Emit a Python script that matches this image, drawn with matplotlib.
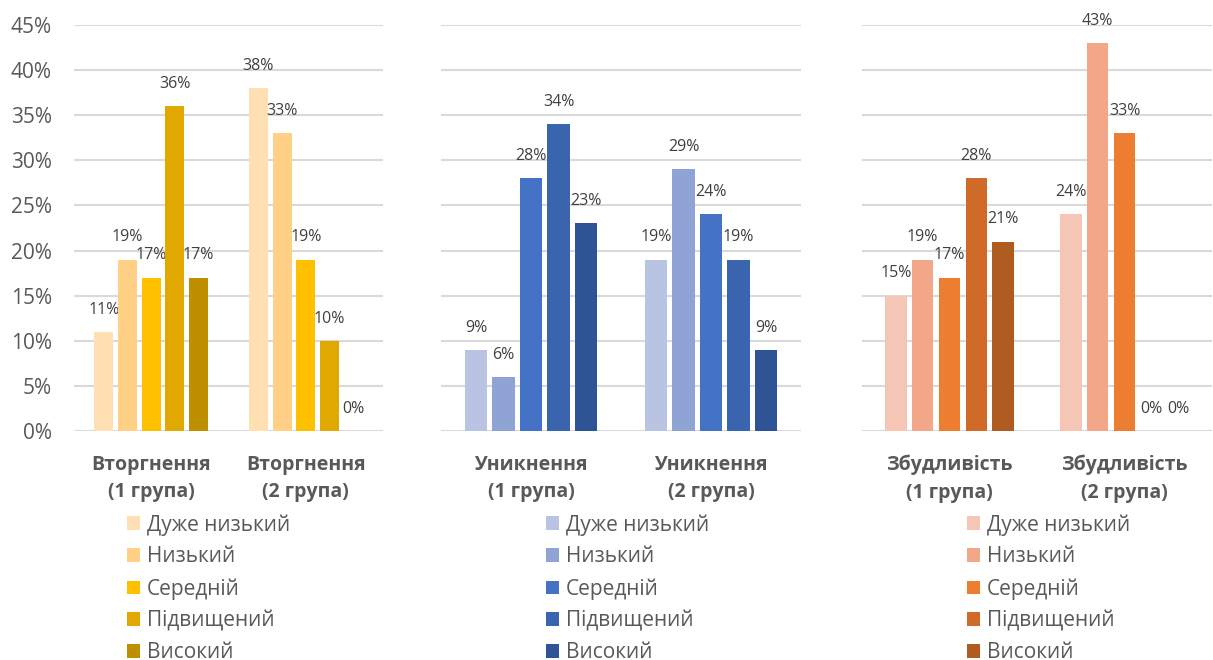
import matplotlib.pyplot as plt
import numpy as np
from matplotlib.patches import Patch

plt.rcParams['font.family'] = ['Open Sans', 'DejaVu Sans']

levels = ['Дуже низький', 'Низький', 'Середній', 'Підвищений', 'Високий']

invasion_labels = ['Вторгнення\n(1 група)', 'Вторгнення\n(2 група)']
invasion_g1 = [11, 19, 17, 36, 17]
invasion_g2 = [38, 33, 19, 10, 0]

avoid_labels = ['Уникнення\n(1 група)', 'Уникнення\n(2 група)']
avoid_g1 = [9, 6, 28, 34, 23]
avoid_g2 = [19, 29, 24, 19, 9]

arousal_labels = ['Збудливість\n(1 група)', 'Збудливість\n(2 група)']
arousal_g1 = [15, 19, 17, 28, 21]
arousal_g2 = [24, 43, 33, 0, 0]

yellow = ['#FFE0B3', '#FFD085', '#FFC000', '#E0A800', '#BF8F00']
blue = ['#B9C4E3', '#8FA4D5', '#4472C4', '#3A64AD', '#2F5496']
orange = ['#F5C6B5', '#F1A788', '#ED7D31', '#D06A28', '#B05C20']

W, H = 1213, 660
fig = plt.figure(figsize=(W / 100, H / 100), dpi=100)

text_col = '#595959'
grid_col = '#D9D9D9'

# pixel extents of each panel: (left, right, legend x)
panels = [
    (74, 383, 127, invasion_labels, invasion_g1, invasion_g2, yellow),
    (441, 801, 546, avoid_labels, avoid_g1, avoid_g2, blue),
    (862, 1212, 967, arousal_labels, arousal_g1, arousal_g2, orange),
]
top_px, base_px = 25, 431

for i, (l, r, lx, cats, g1, g2, cols) in enumerate(panels):
    ax = fig.add_axes([l / W, (H - base_px) / H, (r - l) / W, (base_px - top_px) / H])
    x = np.arange(2)
    step = 0.153
    width = 0.123
    vals = np.array([g1, g2])
    for k in range(5):
        pos = x + (k - 2) * step
        bars = ax.bar(pos, vals[:, k], width, color=cols[k], zorder=3)
        for b, v in zip(bars, vals[:, k]):
            ax.annotate(f'{v}%', (b.get_x() + b.get_width() / 2, v),
                        xytext=(0, 16), textcoords='offset points',
                        ha='center', va='center', fontsize=11.5, color='#404040')
    ax.set_xlim(-0.5, 1.5)
    ax.set_ylim(0, 45)
    ax.set_yticks(np.arange(0, 46, 5))
    ax.yaxis.grid(True, color=grid_col, lw=1.5, zorder=0)
    for s in ax.spines.values():
        s.set_visible(False)
    ax.set_xticks(x)
    ax.set_xticklabels(cats, fontsize=14, fontweight='bold', color=text_col, linespacing=1.52)
    ax.tick_params(axis='x', length=0, pad=17)
    if i == 0:
        ax.set_yticklabels([f'{t}%' for t in range(0, 46, 5)], fontsize=15, color=text_col)
        ax.tick_params(axis='y', length=0, pad=16)
    else:
        ax.tick_params(axis='y', length=0, labelleft=False)

    handles = [Patch(facecolor=c, edgecolor='none') for c in cols]
    fig.legend(handles, levels, loc='upper left',
               bbox_to_anchor=(lx / W, (H - 514) / H),
               frameon=False, fontsize=15, labelcolor=text_col,
               handlelength=0.63, handleheight=0.63, handletextpad=0.33,
               labelspacing=0.52, borderpad=0, borderaxespad=0)

fig.savefig('out.png', dpi=100)
